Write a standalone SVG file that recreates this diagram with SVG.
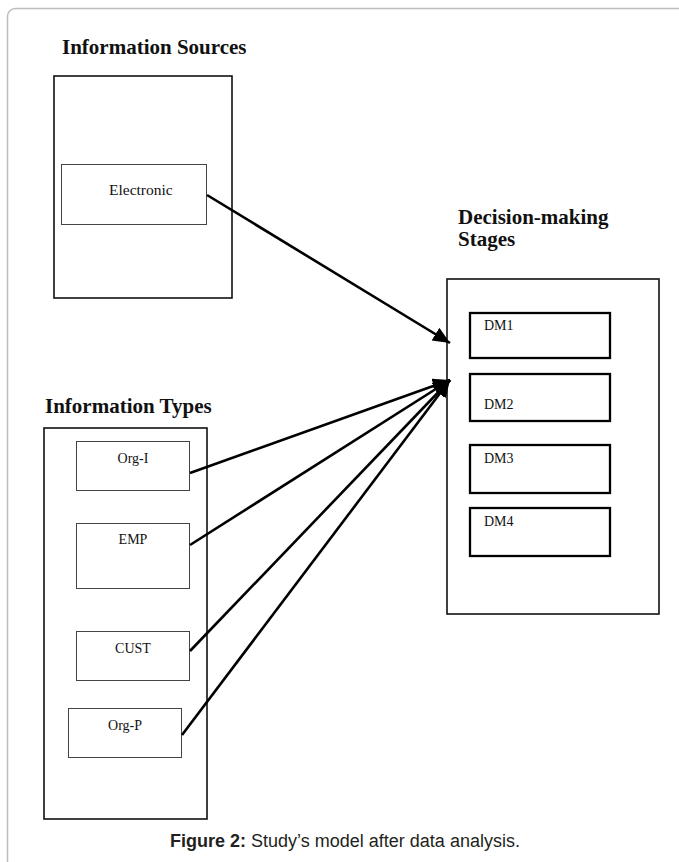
<svg xmlns="http://www.w3.org/2000/svg" width="679" height="862" viewBox="0 0 679 862">
<style>
.title{font-family:"Liberation Serif","Times New Roman",serif;font-weight:bold;font-size:21px;fill:#111}
.lbl{font-family:"Liberation Serif","Times New Roman",serif;font-size:14px;fill:#111}
.outer{fill:#fff;stroke:#111;stroke-width:1.6}
.thin{fill:#fff;stroke:#444;stroke-width:1}
.dm{fill:#fff;stroke:#000;stroke-width:2.3}
.arrow{fill:none;stroke:#000;stroke-width:2.6;marker-end:url(#ah)}
.cap{font-family:"Liberation Sans",Arial,sans-serif;font-size:18px;fill:#231f20}
</style>
<defs>
<marker id="ah" markerUnits="userSpaceOnUse" markerWidth="18" markerHeight="16" refX="17" refY="7.5" orient="auto" viewBox="0 0 18 16">
<path d="M0,0 L17,7.5 L0,15 z" fill="#000"/>
</marker>
</defs>
<rect x="7.5" y="8.5" width="720" height="900" rx="8" fill="#fff" stroke="#bdbdbd" stroke-width="1.5"/>

<g id="sources">
<text class="title" x="62" y="54">Information Sources</text>
<rect class="outer" x="54" y="76" width="178" height="222"/>
</g>
<g id="electronic">
<rect class="thin" x="61.5" y="164.5" width="145" height="60"/>
<text class="lbl" x="109" y="195" style="font-size:15.5px">Electronic</text>
</g>

<g id="stages">
<text class="title" x="458" y="224">Decision-making</text>
<text class="title" x="458" y="246">Stages</text>
<rect class="outer" x="447" y="279" width="212" height="335"/>
</g>
<g id="dm1"><rect class="dm" x="470" y="313" width="140" height="45"/><text class="lbl" x="484" y="330">DM1</text></g>
<g id="dm2"><rect class="dm" x="470" y="374" width="140" height="47"/><text class="lbl" x="484" y="409">DM2</text></g>
<g id="dm3"><rect class="dm" x="470" y="445" width="140" height="48"/><text class="lbl" x="484" y="463">DM3</text></g>
<g id="dm4"><rect class="dm" x="470" y="508" width="140" height="48"/><text class="lbl" x="484" y="526">DM4</text></g>

<g id="types">
<text class="title" x="45" y="413">Information Types</text>
<rect class="outer" x="44" y="428" width="163" height="391"/>
</g>
<g id="orgi"><rect class="thin" x="76.5" y="441.5" width="113" height="49"/><text class="lbl" x="133" y="463" text-anchor="middle">Org-I</text></g>
<g id="emp"><rect class="thin" x="76.5" y="523.5" width="113" height="65"/><text class="lbl" x="133" y="544" text-anchor="middle">EMP</text></g>
<g id="cust"><rect class="thin" x="76.5" y="631.5" width="113" height="49"/><text class="lbl" x="133" y="653" text-anchor="middle">CUST</text></g>
<g id="orgp"><rect class="thin" x="68.5" y="708.5" width="113" height="49"/><text class="lbl" x="125" y="730" text-anchor="middle">Org-P</text></g>

<g id="connectors">
<line class="arrow" x1="207" y1="195" x2="450" y2="343"/>
<line class="arrow" x1="190" y1="473" x2="450" y2="380"/>
<line class="arrow" x1="190" y1="545" x2="450" y2="380"/>
<line class="arrow" x1="190" y1="651" x2="450" y2="380"/>
<line class="arrow" x1="182" y1="735" x2="450" y2="380"/>
</g>

<text class="cap" x="345" y="847" text-anchor="middle"><tspan font-weight="bold">Figure 2:</tspan> Study’s model after data analysis.</text>
</svg>
